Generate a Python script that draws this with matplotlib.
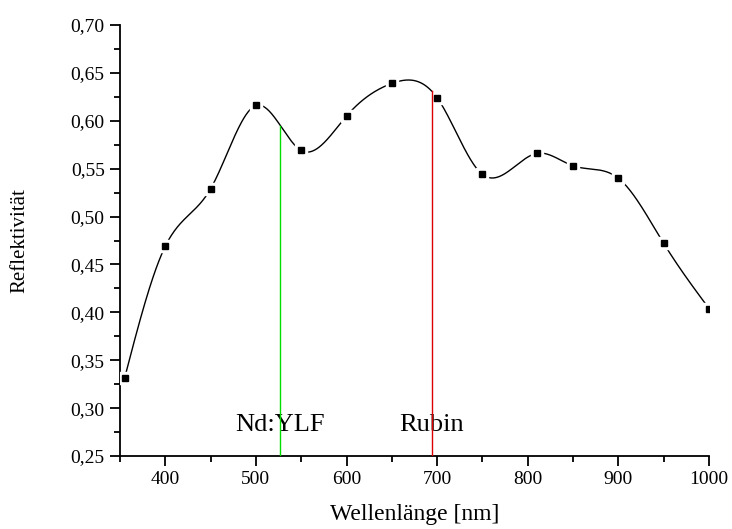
import numpy as np
import matplotlib
matplotlib.use("Agg")
import matplotlib.pyplot as plt
from matplotlib.ticker import MultipleLocator, FuncFormatter

# Messwerte
wellenlaenge = [355, 400, 450, 500, 550, 600, 650, 700, 750, 810, 850, 900, 950, 1000]
reflektivitaet = [0.331, 0.469, 0.529, 0.616, 0.569, 0.605, 0.639, 0.624,
                  0.544, 0.566, 0.553, 0.540, 0.472, 0.404]

# Laserlinien
laser_namen = ["Nd:YLF", "Rubin"]
laser_wellen = [527, 694]
laser_farben = ["#00dd00", "#dd0000"]


def natural_spline(x, y, xs):
    x = np.asarray(x, float)
    y = np.asarray(y, float)
    n = len(x)
    h = np.diff(x)
    A = np.zeros((n, n))
    b = np.zeros(n)
    A[0, 0] = A[-1, -1] = 1
    for i in range(1, n - 1):
        A[i, i - 1] = h[i - 1]
        A[i, i] = 2 * (h[i - 1] + h[i])
        A[i, i + 1] = h[i]
        b[i] = 3 * ((y[i + 1] - y[i]) / h[i] - (y[i] - y[i - 1]) / h[i - 1])
    c = np.linalg.solve(A, b)
    xs = np.asarray(xs, float)
    k = np.clip(np.searchsorted(x, xs) - 1, 0, n - 2)
    dx = xs - x[k]
    bb = (y[k + 1] - y[k]) / h[k] - h[k] * (2 * c[k] + c[k + 1]) / 3
    d = (c[k + 1] - c[k]) / (3 * h[k])
    return y[k] + bb * dx + c[k] * dx ** 2 + d * dx ** 3


plt.rcParams['font.family'] = ['Liberation Serif', 'DejaVu Serif']

fig = plt.figure(figsize=(7.32, 5.29), dpi=100)
ax = fig.add_axes([0.1639, 0.138, 0.8047, 0.8147])

xs = np.linspace(wellenlaenge[0], wellenlaenge[-1], 800)
ax.plot(xs, natural_spline(wellenlaenge, reflektivitaet, xs), color="black", lw=1.0, zorder=2)
ax.plot(wellenlaenge, reflektivitaet, ls="none", marker="s", ms=8.5, color="white", zorder=3)
ax.plot(wellenlaenge, reflektivitaet, ls="none", marker="s", ms=5, color="black", zorder=5)

for name, wl, farbe in zip(laser_namen, laser_wellen, laser_farben):
    top = float(natural_spline(wellenlaenge, reflektivitaet, [wl])[0])
    ax.plot([wl, wl], [0.25, top], color=farbe, lw=1.0, zorder=4)
    ax.text(wl, 0.282, name, ha="center", va="center", fontsize=19)

ax.set_xlim(350, 1000)
ax.set_ylim(0.25, 0.70)
ax.xaxis.set_major_locator(MultipleLocator(100))
ax.xaxis.set_minor_locator(MultipleLocator(50))
ax.yaxis.set_major_locator(MultipleLocator(0.05))
ax.yaxis.set_minor_locator(MultipleLocator(0.025))
ax.yaxis.set_major_formatter(FuncFormatter(lambda v, p: f"{v:.2f}".replace(".", ",")))

for s in ["top", "right"]:
    ax.spines[s].set_visible(False)
for s in ["left", "bottom"]:
    ax.spines[s].set_linewidth(1.3)

ax.tick_params(which="major", direction="out", length=7, width=1.3, labelsize=14, pad=4)
ax.tick_params(which="minor", direction="out", length=4, width=1.3)

ax.set_xlabel("Wellenlänge [nm]", fontsize=17, labelpad=11)
ax.set_ylabel("Reflektivität", fontsize=15, labelpad=30)

fig.savefig("out.png", dpi=100)
